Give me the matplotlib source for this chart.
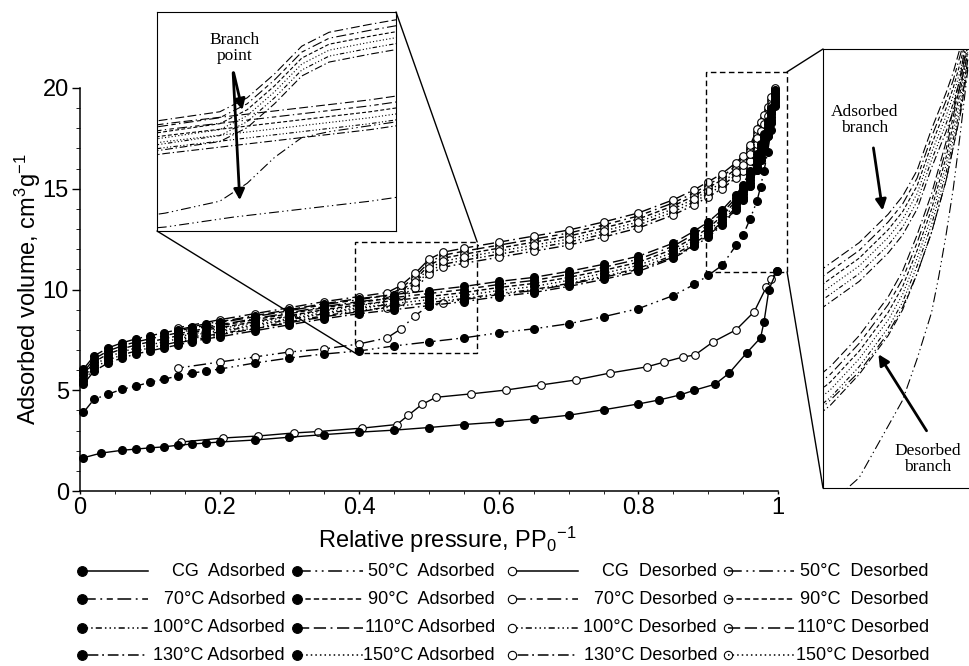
import numpy as np
import matplotlib
matplotlib.use("Agg")
import matplotlib.pyplot as plt
from matplotlib.lines import Line2D
from matplotlib.patches import Rectangle, ConnectionPatch

# Relative pressure grids (adsorption goes up, desorption comes down)
p_ads = [0.005, 0.02, 0.04, 0.06, 0.08, 0.10, 0.12, 0.14, 0.16, 0.18, 0.20, 0.25, 0.30, 0.35, 0.40, 0.45,
         0.50, 0.55, 0.60, 0.65, 0.70, 0.75, 0.80, 0.85, 0.88, 0.90, 0.92, 0.94, 0.95, 0.96, 0.97, 0.975,
         0.98, 0.985, 0.99, 0.995]
p_des = [0.995, 0.99, 0.985, 0.98, 0.975, 0.97, 0.96, 0.95, 0.94, 0.92, 0.90, 0.88, 0.85, 0.80, 0.75,
         0.70, 0.65, 0.60, 0.55, 0.52, 0.50, 0.48, 0.46, 0.44, 0.40, 0.35, 0.30, 0.25, 0.20, 0.14]
p_cg_ads = [0.005, 0.03, 0.06, 0.08, 0.10, 0.12, 0.14, 0.16, 0.18, 0.20, 0.25, 0.30, 0.35, 0.40, 0.45, 0.50,
            0.55, 0.60, 0.65, 0.70, 0.75, 0.80, 0.83, 0.86, 0.88, 0.91, 0.93, 0.955, 0.975, 0.98, 0.987, 0.998]
p_cg_des = [0.998, 0.99, 0.983, 0.966, 0.94, 0.907, 0.881, 0.864, 0.837, 0.812, 0.76, 0.71, 0.66, 0.61, 0.56,
            0.51, 0.49, 0.47, 0.454, 0.404, 0.341, 0.306, 0.255, 0.205, 0.145]

# Adsorbed volume, cm3/g
cg_ads = [1.65, 1.88, 2.02, 2.08, 2.14, 2.19, 2.27, 2.33, 2.38, 2.43, 2.53, 2.67, 2.8, 2.92, 3.02, 3.15,
          3.3, 3.42, 3.57, 3.76, 4.03, 4.32, 4.52, 4.77, 5.0, 5.3, 5.85, 6.85, 7.6, 8.4, 10.0, 10.9]
cg_des = [10.9, 10.5, 10.1, 8.9, 8.0, 7.4, 6.75, 6.65, 6.4, 6.16, 5.86, 5.51, 5.26, 5.01, 4.82,
          4.65, 4.3, 3.75, 3.3, 3.12, 2.95, 2.88, 2.73, 2.63, 2.43]

t50_ads = [3.9, 4.55, 4.8, 5.05, 5.2, 5.4, 5.55, 5.7, 5.85, 5.95, 6.05, 6.35, 6.6, 6.8, 6.95, 7.2,
           7.4, 7.6, 7.85, 8.05, 8.3, 8.65, 9.05, 9.7, 10.25, 10.7, 11.2, 12.2, 12.7, 13.5, 14.4, 15.1,
           15.9, 16.8, 17.9, 19.1]
t50_des = [19.3, 18.3, 17.6, 16.95, 16.45, 15.95, 15.15, 14.5, 14.0, 13.25, 12.7, 12.2, 11.6, 11.0, 10.6,
           10.25, 9.95, 9.75, 9.5, 9.35, 9.2, 8.7, 8.05, 7.6, 7.3, 7.05, 6.9, 6.65, 6.4, 6.1]

t70_ads = [5.9, 6.55, 6.95, 7.2, 7.4, 7.55, 7.7, 7.85, 8.0, 8.15, 8.25, 8.55, 8.85, 9.15, 9.4, 9.6,
           9.8, 10.0, 10.25, 10.45, 10.75, 11.1, 11.5, 12.15, 12.75, 13.2, 13.8, 14.55, 15.05, 15.75, 16.55, 17.05,
           17.55, 18.2, 18.85, 19.75]
t70_des = [19.95, 19.4, 18.9, 18.5, 18.15, 17.8, 17.0, 16.5, 16.15, 15.6, 15.2, 14.8, 14.3, 13.65, 13.2,
           12.8, 12.5, 12.2, 11.9, 11.7, 11.35, 10.65, 10.05, 9.7, 9.5, 9.25, 8.95, 8.65, 8.35, 7.95]

t90_ads = [5.75, 6.4, 6.8, 7.05, 7.25, 7.4, 7.55, 7.7, 7.85, 8.0, 8.1, 8.4, 8.7, 9.0, 9.25, 9.45,
           9.65, 9.85, 10.1, 10.3, 10.6, 10.95, 11.35, 12.0, 12.6, 13.05, 13.65, 14.4, 14.9, 15.6, 16.4, 16.9,
           17.4, 18.05, 18.7, 19.6]
t90_des = [19.85, 19.25, 18.75, 18.35, 18.0, 17.65, 16.85, 16.35, 16.0, 15.45, 15.05, 14.65, 14.15, 13.5, 13.05,
           12.65, 12.35, 12.05, 11.75, 11.55, 11.2, 10.5, 9.9, 9.55, 9.35, 9.1, 8.8, 8.5, 8.2, 7.8]

t100_ads = [5.45, 6.1, 6.5, 6.75, 6.95, 7.1, 7.25, 7.4, 7.55, 7.7, 7.8, 8.1, 8.4, 8.7, 8.95, 9.15,
            9.35, 9.55, 9.8, 10.0, 10.3, 10.65, 11.05, 11.7, 12.3, 12.75, 13.35, 14.1, 14.6, 15.3, 16.1, 16.6,
            17.1, 17.75, 18.4, 19.3]
t100_des = [19.55, 18.95, 18.45, 18.05, 17.7, 17.35, 16.55, 16.05, 15.7, 15.15, 14.75, 14.35, 13.85, 13.2, 12.75,
            12.35, 12.05, 11.75, 11.45, 11.25, 10.9, 10.2, 9.6, 9.25, 9.05, 8.8, 8.5, 8.2, 7.9, 7.5]

t110_ads = [6.05, 6.7, 7.1, 7.35, 7.55, 7.7, 7.85, 8.0, 8.15, 8.3, 8.4, 8.7, 9.0, 9.3, 9.55, 9.75,
            9.95, 10.15, 10.4, 10.6, 10.9, 11.25, 11.65, 12.3, 12.9, 13.35, 13.95, 14.7, 15.2, 15.9, 16.7, 17.2,
            17.7, 18.35, 19.0, 19.9]
t110_des = [20.0, 19.55, 19.05, 18.65, 18.3, 17.95, 17.15, 16.65, 16.3, 15.75, 15.35, 14.95, 14.45, 13.8, 13.35,
            12.95, 12.65, 12.35, 12.05, 11.85, 11.5, 10.8, 10.2, 9.85, 9.65, 9.4, 9.1, 8.8, 8.5, 8.1]

t130_ads = [5.3, 5.95, 6.35, 6.6, 6.8, 6.95, 7.1, 7.25, 7.4, 7.55, 7.65, 7.95, 8.25, 8.55, 8.8, 9.0,
            9.2, 9.4, 9.65, 9.85, 10.15, 10.5, 10.9, 11.55, 12.15, 12.6, 13.2, 13.95, 14.45, 15.15, 15.95, 16.45,
            16.95, 17.6, 18.25, 19.15]
t130_des = [19.4, 18.8, 18.3, 17.9, 17.55, 17.2, 16.4, 15.9, 15.55, 15.0, 14.6, 14.2, 13.7, 13.05, 12.6,
            12.2, 11.9, 11.6, 11.3, 11.1, 10.75, 10.05, 9.45, 9.1, 8.9, 8.65, 8.35, 8.05, 7.75, 7.35]

t150_ads = [5.55, 6.25, 6.65, 6.9, 7.1, 7.25, 7.4, 7.55, 7.7, 7.85, 7.95, 8.25, 8.55, 8.85, 9.1, 9.3,
            9.5, 9.7, 9.95, 10.15, 10.45, 10.8, 11.2, 11.85, 12.45, 12.9, 13.5, 14.25, 14.75, 15.45, 16.25, 16.75,
            17.25, 17.9, 18.55, 19.45]
t150_des = [19.7, 19.1, 18.6, 18.2, 17.85, 17.5, 16.7, 16.2, 15.85, 15.3, 14.9, 14.5, 14.0, 13.35, 12.9,
            12.5, 12.2, 11.9, 11.6, 11.4, 11.05, 10.35, 9.75, 9.4, 9.2, 8.95, 8.65, 8.35, 8.05, 7.65]

samples = ["CG", "50°C", "70°C", "90°C", "100°C", "110°C", "130°C", "150°C"]
series = {
    "CG": (p_cg_ads, cg_ads, p_cg_des, cg_des),
    "50°C": (p_ads, t50_ads, p_des, t50_des),
    "70°C": (p_ads, t70_ads, p_des, t70_des),
    "90°C": (p_ads, t90_ads, p_des, t90_des),
    "100°C": (p_ads, t100_ads, p_des, t100_des),
    "110°C": (p_ads, t110_ads, p_des, t110_des),
    "130°C": (p_ads, t130_ads, p_des, t130_des),
    "150°C": (p_ads, t150_ads, p_des, t150_des),
}
styles = {
    "CG": "-",
    "50°C": (0, (9, 3, 1.2, 3, 1.2, 3)),
    "70°C": (0, (9, 3, 1.2, 3, 4, 3)),
    "90°C": (0, (3.5, 2)),
    "100°C": (0, (1, 2, 1, 2, 1, 2, 4, 2)),
    "110°C": (0, (8, 3, 8, 3, 1.2, 3)),
    "130°C": (0, (1.2, 2.5, 7, 2.5)),
    "150°C": (0, (1, 2)),
}
ads_labels = ["CG  Adsorbed", "50°C  Adsorbed", "70°C Adsorbed", "90°C  Adsorbed",
              "100°C Adsorbed", "110°C Adsorbed", "130°C Adsorbed", "150°C Adsorbed"]
des_labels = ["CG  Desorbed", "50°C  Desorbed", "70°C Desorbed", "90°C  Desorbed",
              "100°C Desorbed", "110°C Desorbed", "130°C Desorbed", "150°C Desorbed"]

W, H = 969, 666


def fx(px):
    return px / W


def fy(py):
    return 1 - py / H


def draw_curves(ax, markers=True, lw=1.0):
    for s in samples:
        pa, va, pd, vd = series[s]
        if markers:
            ax.plot(pd, vd, color="k", ls=styles[s], lw=lw, marker="o", ms=5.5,
                    mfc="white", mec="k", mew=0.8, clip_on=False, zorder=3)
            ax.plot(pa, va, color="k", ls=styles[s], lw=lw, marker="o", ms=5.5,
                    mfc="k", mec="k", clip_on=False, zorder=3.5)
        else:
            ax.plot(pa, va, color="k", ls=styles[s], lw=lw)
            ax.plot(pd, vd, color="k", ls=styles[s], lw=lw)


def main():
    plt.rcParams["font.family"] = ["Liberation Sans", "DejaVu Sans"]
    plt.rcParams["mathtext.fontset"] = "custom"
    plt.rcParams["mathtext.rm"] = "Liberation Sans"
    plt.rcParams["mathtext.it"] = "Liberation Sans:italic"

    fig = plt.figure(figsize=(W / 100, H / 100), dpi=100)
    ax = fig.add_axes([fx(80), fy(491), fx(778) - fx(80), fy(88) - fy(491)])
    draw_curves(ax)
    ax.set_xlim(0, 1)
    ax.set_ylim(0, 20)
    for sp in ["top", "right"]:
        ax.spines[sp].set_visible(False)
    for sp in ["left", "bottom"]:
        ax.spines[sp].set_linewidth(1.1)
    ax.set_xticks([0, 0.2, 0.4, 0.6, 0.8, 1])
    ax.set_xticklabels(["0", "0.2", "0.4", "0.6", "0.8", "1"])
    ax.set_xticks(np.arange(0, 1.001, 0.05), minor=True)
    ax.set_yticks([0, 5, 10, 15, 20])
    ax.set_yticks(np.arange(0, 20.1, 1), minor=True)
    ax.tick_params(axis="both", labelsize=17, width=1.0, direction="out", pad=2)
    ax.tick_params(axis="y", which="major", length=6)
    ax.tick_params(axis="y", which="minor", length=3)
    ax.tick_params(axis="x", which="both", length=2.5)
    ax.set_xlabel(r"Relative pressure, PP$_0$$^{-1}$", fontsize=17, labelpad=0)
    ax.xaxis.set_label_coords(0.527, -0.085)
    ax.set_ylabel(r"Adsorbed volume, cm$^3$g$^{-1}$", fontsize=17, labelpad=0)

    # dashed zoom boxes
    box_l = (0.394, 6.85, 0.569, 12.36)
    box_r = (0.897, 10.87, 1.013, 20.8)
    for b in (box_l, box_r):
        ax.add_patch(Rectangle((b[0], b[1]), b[2] - b[0], b[3] - b[1], fill=False,
                               ls=(0, (4, 2.5)), lw=1.0, ec="k", clip_on=False, zorder=4))

    # left inset: branch point
    axl = fig.add_axes([fx(157), fy(231), fx(396) - fx(157), fy(12) - fy(231)], zorder=5)
    draw_curves(axl, markers=False, lw=0.8)
    axl.set_xlim(box_l[0], box_l[2])
    axl.set_ylim(box_l[1], box_l[3])
    axl.set_xticks([])
    axl.set_yticks([])
    axl.text(0.326, 0.835, "Branch\npoint", transform=axl.transAxes, ha="center", va="center",
             family="Liberation Serif", fontsize=12.5, linespacing=1.0)
    for tip in [(0.36, 0.54), (0.347, 0.128)]:
        axl.annotate("", xy=tip, xytext=(0.318, 0.735), xycoords="axes fraction",
                     arrowprops=dict(arrowstyle="-|>", lw=2, color="k", mutation_scale=16))

    # right inset: hysteresis end
    axr = fig.add_axes([fx(823), fy(488), fx(975) - fx(823), fy(49) - fy(488)], zorder=5)
    draw_curves(axr, markers=False, lw=0.8)
    axr.set_xlim(0.895, 1.0)
    axr.set_ylim(11.0, 19.5)
    axr.set_xticks([])
    axr.set_yticks([])
    axr.text(0.276, 0.838, "Adsorbed\nbranch", transform=axr.transAxes, ha="center", va="center",
             family="Liberation Serif", fontsize=12.5, linespacing=1.0)
    axr.text(0.69, 0.066, "Desorbed\nbranch", transform=axr.transAxes, ha="center", va="center",
             family="Liberation Serif", fontsize=12.5, linespacing=1.0)
    axr.annotate("", xy=(0.395, 0.626), xytext=(0.329, 0.781), xycoords="axes fraction",
                 arrowprops=dict(arrowstyle="-|>", lw=2, color="k", mutation_scale=16))
    axr.annotate("", xy=(0.355, 0.31), xytext=(0.691, 0.125), xycoords="axes fraction",
                 arrowprops=dict(arrowstyle="-|>", lw=2, color="k", mutation_scale=16))

    # connector lines between boxes and insets
    links = [((box_l[2], box_l[3]), axl, (1, 1)), ((box_l[0], box_l[1]), axl, (0, 0)),
             ((box_r[2], box_r[3]), axr, (0, 1)), ((box_r[2], box_r[1]), axr, (0, 0))]
    for xy, axi, corner in links:
        cp = ConnectionPatch(xyA=xy, coordsA=ax.transData, xyB=corner, coordsB=axi.transAxes,
                             color="k", lw=1.0, zorder=6)
        fig.add_artist(cp)

    # legend, 4 rows x 4 columns, marker at left end of the line sample
    col_marker = [82, 297, 512, 728]
    col_text = [285, 495, 717, 929]
    row_y = [571, 599, 628, 655]
    order = [[("CG", 0), ("50°C", 0), ("CG", 1), ("50°C", 1)],
             [("70°C", 0), ("90°C", 0), ("70°C", 1), ("90°C", 1)],
             [("100°C", 0), ("110°C", 0), ("100°C", 1), ("110°C", 1)],
             [("130°C", 0), ("150°C", 0), ("130°C", 1), ("150°C", 1)]]
    for r, row in enumerate(order):
        for c, (s, kind) in enumerate(row):
            x0 = col_marker[c]
            y = fy(row_y[r])
            if kind == 0:
                mfc, ms, label = "k", 7, ads_labels[samples.index(s)]
            else:
                mfc, ms, label = ("white" if c == 2 else "none"), 6, des_labels[samples.index(s)]
            line = Line2D([fx(x0), fx(x0 + 66)], [y, y], transform=fig.transFigure, color="k",
                          ls=styles[s], lw=1.1, marker="o", ms=ms, mfc=mfc, mec="k",
                          mew=0.8, markevery=[0])
            fig.add_artist(line)
            fig.text(fx(col_text[c]), y, label, ha="right", va="center", fontsize=13)

    fig.savefig("out.png", dpi=100)


if __name__ == "__main__":
    main()
